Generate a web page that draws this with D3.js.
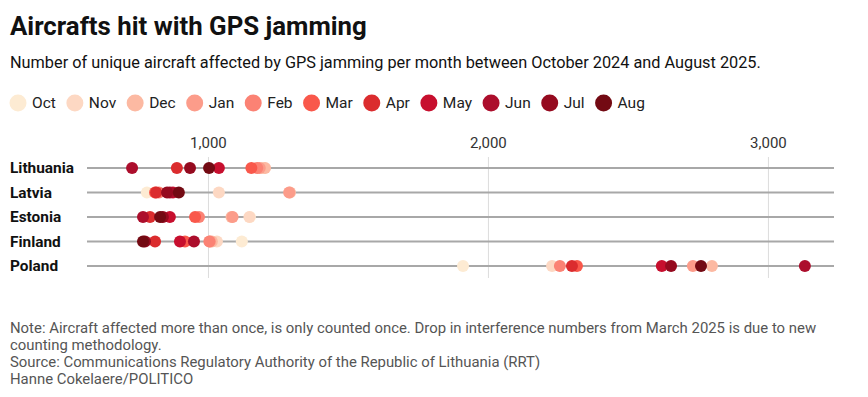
<!DOCTYPE html>
<html>
<head>
<meta charset="utf-8">
<script src="https://cdn.jsdelivr.net/npm/d3@7"></script>
<style>
  body { margin: 0; background: #fff; }
  svg { display: block; font-family: Roboto, "Noto Sans", sans-serif; }
</style>
</head>
<body>
<div id="chart"></div>
<script>
// months, in legend order
const months = ["Oct", "Nov", "Dec", "Jan", "Feb", "Mar", "Apr", "May", "Jun", "Jul", "Aug"];
const monthColors = ["#fdebd3", "#fdd8c3", "#fcb9a2", "#fc9c8a", "#fb8274", "#f9584b",
                     "#db2c2e", "#c70f2e", "#ac0e2c", "#950a1f", "#730a13"];
const countries = ["Lithuania", "Latvia", "Estonia", "Finland", "Poland"];

// aircraft affected per month, Oct 2024 .. Aug 2025
const lithuania = [1200, 1195, 1204, 1185, 1176, 1155, 889, 1039, 729, 936, 1004];
const latvia    = [782, 1039, 1293, 1290, 825, 811, 815, 875, 864, 854, 896];
const estonia   = [1150, 1148, 1084, 1088, 968, 954, 793, 864, 768, 839, 829];
const finland   = [1121, 1032, 1014, 1007, 1005, 918, 811, 900, 950, 775, 768];
const poland    = [1911, 2229, 2800, 2732, 2257, 2318, 2300, 2621, 3132, 2654, 2761];
const seriesByCountry = [lithuania, latvia, estonia, finland, poland];

const tickValues = [1000, 2000, 3000];

const W = 868, H = 397;
const svg = d3.select("#chart").append("svg")
  .attr("width", W).attr("height", H);

svg.append("rect").attr("width", W).attr("height", H).attr("fill", "#fff");

// titles
svg.append("text").attr("x", 10).attr("y", 35)
  .attr("font-size", 25.8).attr("font-weight", 700).attr("fill", "#111")
  .text("Aircrafts hit with GPS jamming");
svg.append("text").attr("x", 10).attr("y", 68)
  .attr("font-size", 16.3).attr("fill", "#111")
  .text("Number of unique aircraft affected by GPS jamming per month between October 2024 and August 2025.");

// legend
const color = d3.scaleOrdinal().domain(months).range(monthColors);
const legend = svg.append("g").attr("transform", "translate(0,103)");
let lx = 18;
months.forEach(m => {
  const g = legend.append("g").attr("transform", `translate(${lx},0)`);
  g.append("circle").attr("r", 8.5).attr("fill", color(m));
  const t = g.append("text").attr("x", 14).attr("dy", "0.35em")
    .attr("font-size", 15.5).attr("fill", "#222").text(m);
  lx += 14 + t.node().getComputedTextLength() + 19;
});

// scales
const x = d3.scaleLinear().domain([568, 3236]).range([87, 834]);
const y = d3.scalePoint().domain(countries).range([168, 266]);

// vertical grid + tick labels
const axis = svg.append("g").attr("transform", "translate(0,157)")
  .call(d3.axisTop(x).tickValues(tickValues).tickFormat(d3.format(",")).tickSize(-121).tickPadding(9));
axis.select(".domain").remove();
axis.selectAll(".tick line").attr("stroke", "#dcdcdc");
axis.selectAll(".tick text").attr("font-size", 15).attr("fill", "#333")
  .attr("font-family", "Roboto, sans-serif");

// row lines + labels
const rows = svg.append("g").selectAll("g").data(countries).join("g")
  .attr("transform", d => `translate(0,${y(d)})`);
rows.append("line").attr("x1", x.range()[0]).attr("x2", x.range()[1])
  .attr("stroke", "#a8a8a8").attr("stroke-width", 2);
rows.append("text").attr("x", 10).attr("dy", "0.35em")
  .attr("font-size", 15.4).attr("font-weight", 700).attr("fill", "#111")
  .text(d => d);

// dots
const dots = [];
months.forEach((m, i) => {
  countries.forEach((c, j) => dots.push({ country: c, month: m, value: seriesByCountry[j][i] }));
});
svg.append("g").selectAll("circle").data(dots).join("circle")
  .attr("cx", d => x(d.value)).attr("cy", d => y(d.country))
  .attr("r", 6).attr("fill", d => color(d.month));

// footnotes
const notes = [
  "Note: Aircraft affected more than once, is only counted once. Drop in interference numbers from March 2025 is due to new",
  "counting methodology.",
  "Source: Communications Regulatory Authority of the Republic of Lithuania (RRT)",
  "Hanne Cokelaere/POLITICO"
];
svg.append("g").selectAll("text").data(notes).join("text")
  .attr("x", 10).attr("y", (d, i) => 333 + i * 17)
  .attr("font-size", 14.9).attr("fill", "#555").text(d => d);
</script>
</body>
</html>
